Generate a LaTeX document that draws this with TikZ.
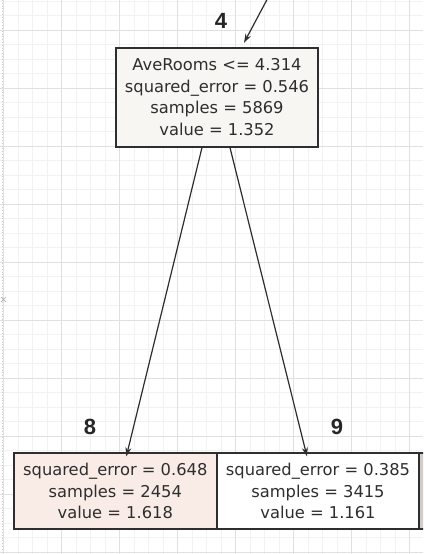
\documentclass[tikz,border=0pt]{standalone}
\usepackage{fontspec}
\setmainfont{DejaVu Sans}
\newfontfamily\labfont{Liberation Sans}
\usetikzlibrary{arrows.meta}
\definecolor{gridminor}{HTML}{F2F2F0}
\definecolor{gridmajor}{HTML}{E0E0E0}
\definecolor{edgecol}{HTML}{2E2E2E}
\definecolor{rootfill}{HTML}{F8F6F3}
\definecolor{leftfill}{HTML}{F9ECE6}
\definecolor{rightfill}{HTML}{FFFFFF}
\definecolor{thirdfill}{HTML}{D2CDC9}
\tikzset{
  treebox/.style={draw=edgecol, line width=1.8pt, inner sep=0pt, align=center,
    font=\fontsize{16.3}{21.5}\selectfont, text=black!82},
  numlabel/.style={font=\labfont\bfseries\fontsize{22}{22}\selectfont, text=black!85},
  conn/.style={draw=edgecol, line width=1.2pt, -{Stealth[length=9pt,width=6pt]}}
}
\begin{document}
\begin{tikzpicture}[x=1pt,y=-1pt]
\useasboundingbox (0,0) rectangle (423,554);
\clip (0,0) rectangle (423,554);
\fill[white] (0,0) rectangle (423,554);
% grid
\foreach \i in {0,...,29} {
  \draw[gridminor, line width=0.6pt] ({3.7+14.5*\i},0) -- ({3.7+14.5*\i},554);
}
\foreach \i in {0,...,38} {
  \draw[gridminor, line width=0.6pt] (0,{1+14.5*\i}) -- (423,{1+14.5*\i});
}
\foreach \i in {0,...,7} {
  \draw[gridmajor, line width=0.9pt] ({3.7+58*\i},0) -- ({3.7+58*\i},554);
}
\foreach \i in {0,...,9} {
  \draw[gridmajor, line width=0.9pt] (0,{30+58*\i}) -- (423,{30+58*\i});
}
\draw[gray!40, dotted, line width=0.8pt] (2,0) -- (2,554);
\draw[gray!70, line width=0.5pt] (1,297) -- (6,302) (1,302) -- (6,297);

% nodes
\node[treebox, fill=rootfill, minimum width=202.6pt, minimum height=99pt] (n4) at (217,97.2)
  {AveRooms <= 4.314\\squared\_error = 0.546\\samples = 5869\\value = 1.352};
\node[treebox, fill=leftfill, minimum width=202.7pt, minimum height=76pt] (n8) at (115.3,491.3)
  {squared\_error = 0.648\\samples = 2454\\value = 1.618};
\node[treebox, fill=rightfill, minimum width=202.7pt, minimum height=76pt] (n9) at (318,491.3)
  {squared\_error = 0.385\\samples = 3415\\value = 1.161};
\node[treebox, fill=thirdfill, minimum width=202.7pt, minimum height=76pt] (n10) at (520.7,491.3) {};

\node[numlabel] (l4) at (221,21) {4};
\node[numlabel] (l8) at (90,427) {8};
\node[numlabel] (l9) at (337,427) {9};

\coordinate (in4) at (270,-6);
\draw[conn] (in4) -- ([xshift=27pt,yshift=4pt]n4.north);
\draw[conn] ([xshift=-15pt]n4.south) -- ([xshift=11pt,yshift=-4pt]n8.north);
\draw[conn] ([xshift=13pt]n4.south) -- ([xshift=-11pt,yshift=-4pt]n9.north);
\end{tikzpicture}
\end{document}
